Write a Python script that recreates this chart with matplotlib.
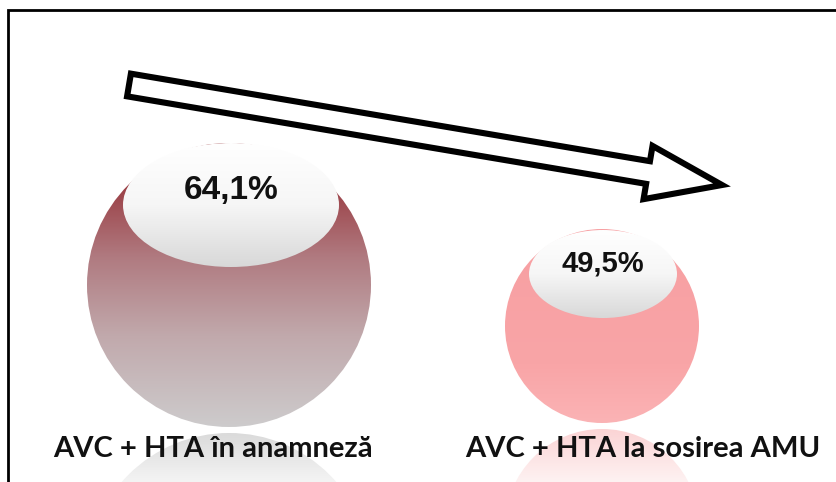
import numpy as np
import matplotlib.pyplot as plt
from matplotlib.patches import Circle, Ellipse, Polygon
from matplotlib.colors import LinearSegmentedColormap

W, H = 837, 482

values = [64.1, 49.5]
categories = ["AVC + HTA în anamneză", "AVC + HTA la sosirea AMU"]


def pct(v):
    return f"{v:.1f}".replace(".", ",") + "%"


def gradient_fill(ax, patch, x0, x1, y0, y1, cmap):
    # vertical gradient clipped to a patch; y0 is top in pixel coords
    t = np.linspace(0, 1, 256).reshape(-1, 1)
    img = cmap(t)
    im = ax.imshow(img, extent=(x0, x1, y1, y0), aspect="auto", zorder=patch.get_zorder(),
                   interpolation="bilinear")
    ax.add_patch(patch)
    patch.set_visible(False)
    im.set_clip_path(patch)
    return im


fig = plt.figure(figsize=(W / 100, H / 100), dpi=100)
ax = fig.add_axes([0, 0, 1, 1])
ax.axis("off")

big_cmap = LinearSegmentedColormap.from_list(
    "big", [(0, "#8a1c20"), (0.12, "#98383e"), (0.4, "#b07a80"), (0.68, "#c1a9ac"), (1, "#cdcbcc")])
small_cmap = LinearSegmentedColormap.from_list(
    "small", [(0, "#f79fa2"), (0.7, "#f9a5a7"), (1, "#fbb3b5")])
hl_cmap = LinearSegmentedColormap.from_list(
    "hl", [(0, "#ffffff"), (0.5, "#f6f6f6"), (1, "#d8d8d8")])
big_refl = LinearSegmentedColormap.from_list("br", ["#d9d9d9", "#f4f4f4"])
small_refl = LinearSegmentedColormap.from_list("sr", ["#fbd2d3", "#fef2f2"])

# sphere geometry (pixels): center x, center y, radius
spheres = [(229, 285, 142), (602, 326, 97)]
highlights = [(231, 205, 108, 62), (603, 274, 74, 44)]
cmaps = [big_cmap, small_cmap]
refl_cmaps = [big_refl, small_refl]
pct_sizes = [24, 21]
pct_y = [190, 264]

for i in range(2):
    cx, cy, r = spheres[i]
    # reflection below the sphere
    ry = cy + 2 * r + 6
    gradient_fill(ax, Circle((cx, ry), r, zorder=1), cx - r, cx + r, cy + r + 3, H,
                  refl_cmaps[i])
    # sphere body
    gradient_fill(ax, Circle((cx, cy), r, zorder=2), cx - r, cx + r, cy - r, cy + r, cmaps[i])
    # highlight
    hx, hy, hw, hh = highlights[i]
    gradient_fill(ax, Ellipse((hx, hy), 2 * hw, 2 * hh, zorder=3), hx - hw, hx + hw,
                  hy - hh, hy + hh, hl_cmap)
    ax.text(hx, pct_y[i], pct(values[i]), ha="center", va="center", fontsize=pct_sizes[i],
            fontweight="bold", family="Liberation Sans", color="#111111", zorder=5)

label_x = [213, 643]
for i in range(2):
    ax.text(label_x[i], 449, categories[i], ha="center", va="center", fontsize=21,
            fontweight="bold", family="Lato", color="#111111", zorder=6)

# block arrow outline
tail = np.array([129.0, 85.0])
tip = np.array([722.0, 185.0])
d = (tip - tail) / np.linalg.norm(tip - tail)
n = np.array([-d[1], d[0]])
sw, hw, hl = 11.5, 27, 75
b = tip - d * hl
pts = [tail - n * sw, b - n * sw, b - n * hw, tip, b + n * hw, b + n * sw, tail + n * sw]
ax.add_patch(Polygon(pts, closed=True, facecolor="white", edgecolor="black", lw=4.4,
                     joinstyle="miter", zorder=7))

# frame on left and top
ax.plot([8.5, 8.5, W], [H, 10, 10], color="black", lw=2, solid_joinstyle="miter", zorder=8)

ax.set_xlim(0, W)
ax.set_ylim(H, 0)
fig.savefig("out.png", dpi=100)
